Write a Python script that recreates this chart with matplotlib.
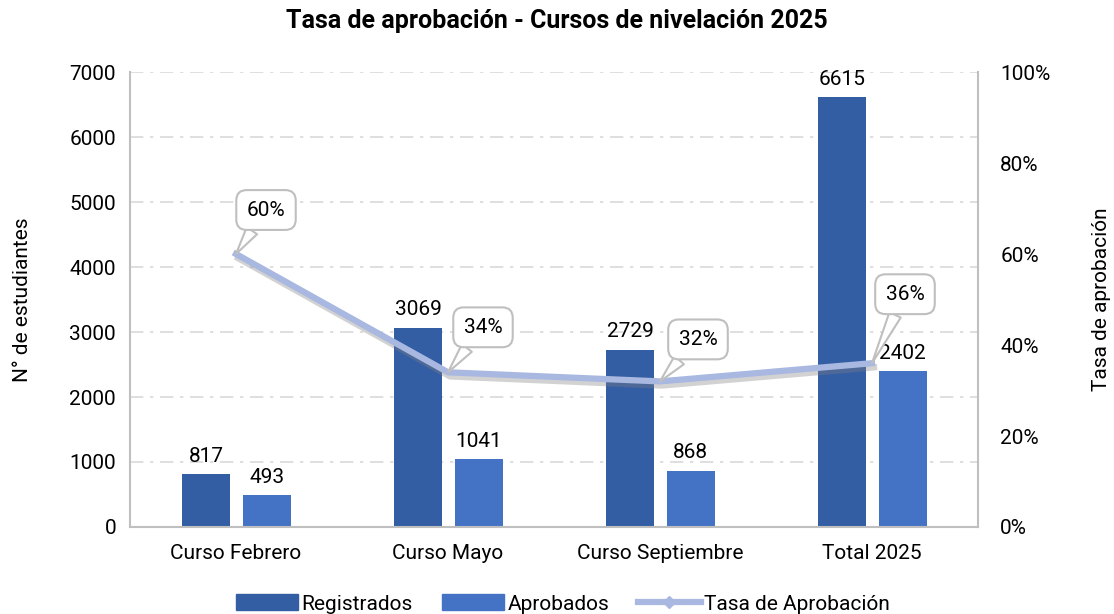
import numpy as np
import matplotlib.pyplot as plt
import matplotlib.patheffects as pe
from matplotlib.lines import Line2D
from matplotlib.patches import Patch

plt.rcParams['font.family'] = ['Roboto', 'DejaVu Sans']

# Datos
cursos = ['Curso Febrero', 'Curso Mayo', 'Curso Septiembre', 'Total 2025']
registrados = [817, 3069, 2729, 6615]
aprobados = [493, 1041, 868, 2402]
tasa = [60, 34, 32, 36]
tasa_labels = ['60%', '34%', '32%', '36%']

c_reg = '#345EA4'
c_apr = '#4473C5'
c_tasa = '#A9B8E0'
gris = '#BFBFBF'
fs = 15

fig = plt.figure(figsize=(11.14, 6.14), dpi=100)
ax = fig.add_axes([0.1167, 0.1417, 0.7612, 0.741])

x = np.arange(len(cursos))
w = 0.225
b1 = ax.bar(x - 0.14, registrados, w, color=c_reg, zorder=2)
b2 = ax.bar(x + 0.145, aprobados, w, color=c_apr, zorder=2)
ax.bar_label(b1, padding=6, fontsize=fs)
ax.bar_label(b2, padding=6, fontsize=fs)

ax.set_xlim(-0.5, 3.5)
ax.set_ylim(0, 7000)
ax.set_yticks(range(0, 7001, 1000))
ax.set_xticks(x)
ax.set_xticklabels(cursos)
ax.tick_params(labelsize=fs, length=0, pad=10)
ax.tick_params(axis='x', pad=12)
ax.grid(axis='y', color='#D9D9D9', linestyle=(0, (8, 4, 2, 4)), linewidth=1.2, zorder=0)
for s in ax.spines.values():
    s.set_color(gris)
    s.set_linewidth(1.5)
ax.spines['top'].set_visible(False)
ax.set_ylabel('N° de estudiantes', fontsize=fs, labelpad=27)

ax2 = ax.twinx()
ax2.set_ylim(0, 100)
ax2.set_yticks(range(0, 101, 20))
ax2.set_yticklabels([f'{v}%' for v in range(0, 101, 20)])
ax2.tick_params(labelsize=fs, length=0, pad=16)
for s in ax2.spines.values():
    s.set_visible(False)
ax2.set_ylabel('Tasa de aprobación', fontsize=fs, labelpad=30)

ax2.plot(x, tasa, color=c_tasa, linewidth=4.5, zorder=3,
         path_effects=[pe.SimpleLineShadow(offset=(1.5, -3), shadow_color='#808080', alpha=0.35),
                       pe.Normal()])

# desplazamiento de las etiquetas (en pixeles)
offsets = [(30, 44), (35, 45), (38, 42), (33, 69)]
for xi, yi, lab, off in zip(x, tasa, tasa_labels, offsets):
    ax2.annotate(lab, (xi, yi), xytext=off, textcoords='offset pixels',
                 fontsize=fs, ha='center', va='center',
                 bbox=dict(boxstyle='round,pad=0.5', fc='white', ec=gris, lw=1.5),
                 arrowprops=dict(arrowstyle='wedge,tail_width=0.6,shrink_factor=0.5',
                                 fc='white', ec=gris, lw=1.5, shrinkA=0, shrinkB=0))

fig.suptitle('Tasa de aprobación - Cursos de nivelación 2025', fontsize=18,
             fontweight='bold', y=0.985)

handles = [Patch(color=c_reg), Patch(color=c_apr),
           Line2D([], [], color=c_tasa, lw=4.5, marker='D', markersize=6)]
fig.legend(handles, ['Registrados', 'Aprobados', 'Tasa de Aprobación'],
           loc='lower center', bbox_to_anchor=(0.505, -0.03), ncol=3, frameon=False,
           fontsize=fs, handlelength=3.0, handleheight=0.8, columnspacing=1.4,
           handletextpad=0.15)

fig.savefig('out.png', dpi=100)
